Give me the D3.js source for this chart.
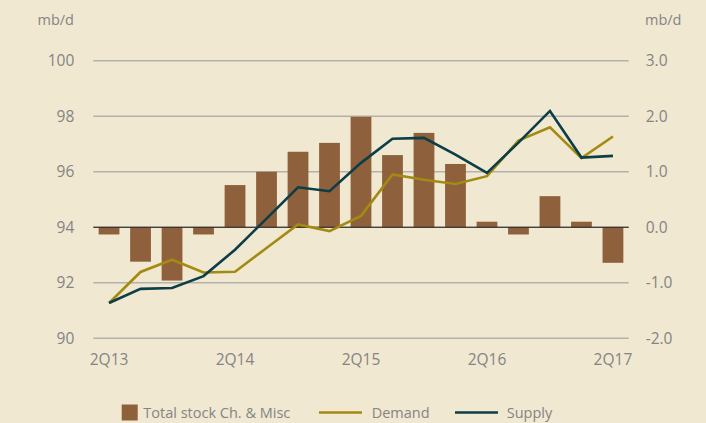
<!DOCTYPE html>
<html>
<head>
<meta charset="utf-8">
<script src="https://cdn.jsdelivr.net/npm/d3@7"></script>
<style>
  body { margin: 0; background: #f1e8d1; }
  svg { display: block; font-family: 'Open Sans', sans-serif; }
  .tick-label { fill: #848484; font-size: 15.5px; }
  .legend-label { fill: #848484; font-size: 14.5px; }
</style>
</head>
<body>
<div id="chart"></div>
<script>
'use strict'

// quarters, 2Q13 .. 2Q17
const quarters = ['2Q13', '3Q13', '4Q13', '1Q14', '2Q14', '3Q14', '4Q14', '1Q15', '2Q15',
  '3Q15', '4Q15', '1Q16', '2Q16', '3Q16', '4Q16', '1Q17', '2Q17']
const xTickLabels = ['2Q13', '2Q14', '2Q15', '2Q16', '2Q17']
const stockChange = [-0.13, -0.62, -0.96, -0.13, 0.76, 1.0, 1.36, 1.52, 1.99,
  1.30, 1.70, 1.14, 0.10, -0.13, 0.56, 0.10, -0.64]
const demand = [91.27, 92.39, 92.83, 92.37, 92.40, 93.25, 94.10, 93.86, 94.41,
  95.90, 95.71, 95.56, 95.84, 97.12, 97.60, 96.49, 97.27]
const supply = [91.27, 91.78, 91.81, 92.24, 93.19, 94.31, 95.44, 95.30, 96.32,
  97.19, 97.22, 96.62, 95.96, 97.05, 98.19, 96.51, 96.57]
const leftTicks = [90, 92, 94, 96, 98, 100]
const rightTicks = [-2, -1, 0, 1, 2, 3]

const width = 706
const height = 423
const margin = { top: 60.7, right: 77.3, bottom: 84.7, left: 93.3 }

const svg = d3.select('#chart')
  .append('svg')
  .attr('width', width)
  .attr('height', height)

svg.append('rect')
  .attr('width', width)
  .attr('height', height)
  .attr('fill', '#f1e8d1')

const x = d3.scaleBand()
  .domain(quarters)
  .range([margin.left, width - margin.right])
  .paddingInner(0.34)
  .paddingOuter(0.17)
const yLeft = d3.scaleLinear()
  .domain([90, 100])
  .range([height - margin.bottom, margin.top])
const yRight = d3.scaleLinear()
  .domain([-2, 3])
  .range([height - margin.bottom, margin.top])

// grid lines
svg.selectAll('line.grid')
  .data(leftTicks)
  .enter()
  .append('line')
  .attr('class', 'grid')
  .attr('x1', margin.left)
  .attr('x2', width - margin.right)
  .attr('y1', d => yLeft(d))
  .attr('y2', d => yLeft(d))
  .attr('stroke', '#b3b1ab')
  .attr('stroke-width', 1.5)

// left axis
const leftAxis = svg.append('g')
  .attr('transform', `translate(${margin.left - 19},0)`)
  .call(d3.axisLeft(yLeft).tickValues(leftTicks).tickSize(0).tickPadding(0))
leftAxis.select('.domain').remove()

// right axis, plain hyphen for negatives
const fmt = d3.format('.1f')
const rightAxis = svg.append('g')
  .attr('transform', `translate(${width - margin.right + 17},0)`)
  .call(d3.axisRight(yRight).tickValues(rightTicks)
    .tickFormat(d => fmt(d).replace('\u2212', '-'))
    .tickSize(0).tickPadding(0))
rightAxis.select('.domain').remove()

// bottom axis
const bottomAxis = svg.append('g')
  .attr('transform', `translate(0,${height - margin.bottom + 13})`)
  .call(d3.axisBottom(x).tickValues(xTickLabels).tickSize(0).tickPadding(0))
bottomAxis.select('.domain').remove()
bottomAxis.selectAll('text').attr('dy', '0.9em')

svg.selectAll('g').attr('font-family', null).attr('font-size', null)
svg.selectAll('g text').attr('class', 'tick-label').attr('fill', null)

// bars
svg.selectAll('rect.bar')
  .data(stockChange)
  .enter()
  .append('rect')
  .attr('class', 'bar')
  .attr('x', (d, i) => x(quarters[i]))
  .attr('width', x.bandwidth())
  .attr('y', d => yRight(Math.max(0, d)))
  .attr('height', d => Math.abs(yRight(d) - yRight(0)))
  .attr('fill', '#8e603b')

// zero line
svg.append('line')
  .attr('x1', margin.left)
  .attr('x2', width - margin.right)
  .attr('y1', yRight(0))
  .attr('y2', yRight(0))
  .attr('stroke', '#1e1e1e')
  .attr('stroke-width', 1.2)

// lines
const line = d3.line()
  .x((d, i) => x(quarters[i]) + x.bandwidth() / 2)
  .y(d => yLeft(d))
svg.append('path')
  .datum(demand)
  .attr('d', line)
  .attr('fill', 'none')
  .attr('stroke', '#a38a12')
  .attr('stroke-width', 2.6)
svg.append('path')
  .datum(supply)
  .attr('d', line)
  .attr('fill', 'none')
  .attr('stroke', '#0c3e48')
  .attr('stroke-width', 2.6)

// units
svg.append('text')
  .attr('class', 'legend-label')
  .attr('x', 37.5)
  .attr('y', 25)
  .text('mb/d')
svg.append('text')
  .attr('class', 'legend-label')
  .attr('x', 645)
  .attr('y', 25)
  .text('mb/d')

// legend
const legendY = 412.5
svg.append('rect')
  .attr('x', 121.7)
  .attr('y', legendY - 8)
  .attr('width', 16)
  .attr('height', 16)
  .attr('fill', '#8e603b')
svg.append('text')
  .attr('class', 'legend-label')
  .attr('x', 143.3)
  .attr('y', legendY)
  .attr('dy', '0.35em')
  .text('Total stock Ch. & Misc')
const legendLines = [
  { label: 'Demand', color: '#a38a12', x: 319, tx: 371.7 },
  { label: 'Supply', color: '#0c3e48', x: 455, tx: 506.7 }
]
svg.selectAll('line.legend')
  .data(legendLines)
  .enter()
  .append('line')
  .attr('class', 'legend')
  .attr('x1', d => d.x)
  .attr('x2', d => d.x + 43)
  .attr('y1', legendY)
  .attr('y2', legendY)
  .attr('stroke', d => d.color)
  .attr('stroke-width', 2.6)
svg.selectAll('text.legend-text')
  .data(legendLines)
  .enter()
  .append('text')
  .attr('class', 'legend-label legend-text')
  .attr('x', d => d.tx)
  .attr('y', legendY)
  .attr('dy', '0.35em')
  .text(d => d.label)
</script>
</body>
</html>
